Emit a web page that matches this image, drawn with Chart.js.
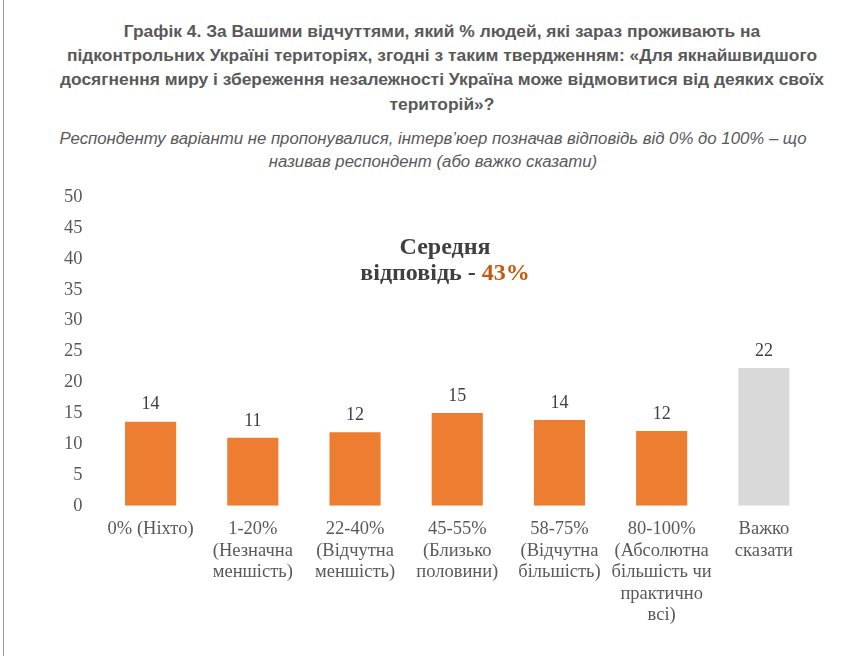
<!DOCTYPE html>
<html>
<head>
<meta charset="utf-8">
<script src="https://cdn.jsdelivr.net/npm/chart.js@4/dist/chart.umd.min.js"></script>
<style>
  body { margin: 0; background: #fff; width: 849px; height: 656px; overflow: hidden; position: relative; }
  .edge { position: absolute; left: 3px; top: 0; width: 1px; height: 656px; background: #9a9a9a; }
  .title { position: absolute; left: 42px; width: 800px; top: 19px; text-align: center;
    font-family: "Liberation Sans", Arial, sans-serif; font-weight: bold; font-size: 17.4px;
    line-height: 24.2px; color: #595959; }
  .sub { position: absolute; left: 10px; width: 846px; top: 127px; text-align: center;
    font-family: "Liberation Sans", Arial, sans-serif; font-style: italic; font-size: 16.8px;
    line-height: 23px; color: #595959; }
  .avg { position: absolute; left: 300px; width: 290px; top: 234px; text-align: center;
    font-family: "Liberation Serif", "Times New Roman", serif; font-weight: bold; font-size: 24px;
    line-height: 25.5px; color: #404040; }
  .avg span { color: #c55a11; }
  .wrap { position: absolute; left: 0; top: 177px; width: 849px; height: 476px; }
</style>
</head>
<body>
<div class="edge"></div>
<div class="title">Графік 4. За Вашими відчуттями, який % людей, які зараз проживають на<br>підконтрольних Україні територіях, згодні з таким твердженням: «Для якнайшвидшого<br>досягнення миру і збереження незалежності Україна може відмовитися від деяких своїх<br>територій»?</div>
<div class="sub">Респонденту варіанти не пропонувалися, інтерв’юер позначав відповідь від 0% до 100% – що<br>називав респондент (або важко сказати)</div>
<div class="wrap"><canvas id="chart"></canvas></div>
<div class="avg">Середня<br>відповідь - <span>43%</span></div>
<script>
// categories (multi-line labels) and shares in %
const categories = [
    '0% (Ніхто)',
    ['1-20%', '(Незначна', 'меншість)'],
    ['22-40%', '(Відчутна', 'меншість)'],
    ['45-55%', '(Близько', 'половини)'],
    ['58-75%', '(Відчутна', 'більшість)'],
    ['80-100%', '(Абсолютна', 'більшість чи', 'практично', 'всі)'],
    ['Важко', 'сказати']
];
const values = [13.6, 11.0, 11.9, 15.0, 13.9, 12.1, 22.3];
const barColors = ['#ed7d31', '#ed7d31', '#ed7d31', '#ed7d31', '#ed7d31', '#ed7d31', '#d9d9d9'];
const yTicks = [0, 5, 10, 15, 20, 25, 30, 35, 40, 45, 50];

const serif = '"Liberation Serif", "Times New Roman", serif';

// draws the rounded value above each bar
const valueLabels = {
    id: 'valueLabels',
    afterDatasetsDraw(chart) {
        const ctx = chart.ctx;
        const meta = chart.getDatasetMeta(0);
        ctx.save();
        ctx.font = '18px ' + serif;
        ctx.fillStyle = '#404040';
        ctx.textAlign = 'center';
        ctx.textBaseline = 'bottom';
        meta.data.forEach((bar, i) => {
            ctx.fillText(Math.round(values[i]), bar.x, bar.y - 8);
        });
        ctx.restore();
    }
};

new Chart(document.getElementById('chart'), {
    type: 'bar',
    data: {
        labels: categories,
        datasets: [{
            data: values,
            backgroundColor: barColors,
            barPercentage: 0.5,
            categoryPercentage: 1.0
        }]
    },
    options: {
        responsive: true,
        maintainAspectRatio: false,
        animation: false,
        layout: { padding: { left: 55, right: 34, top: 7, bottom: 22 } },
        plugins: { legend: { display: false }, tooltip: { enabled: false } },
        scales: {
            x: {
                grid: { display: false },
                border: { display: false },
                ticks: {
                    color: '#595959',
                    font: { family: serif, size: 18.5, lineHeight: 1.16 },
                    padding: 5,
                    maxRotation: 0,
                    autoSkip: false
                }
            },
            y: {
                min: 0,
                max: 50,
                grid: { display: false },
                border: { display: false },
                afterBuildTicks(axis) { axis.ticks = yTicks.map(v => ({ value: v })); },
                ticks: {
                    color: '#595959',
                    font: { family: serif, size: 18.5 },
                    padding: 9
                }
            }
        }
    },
    plugins: [valueLabels]
});
</script>
</body>
</html>
